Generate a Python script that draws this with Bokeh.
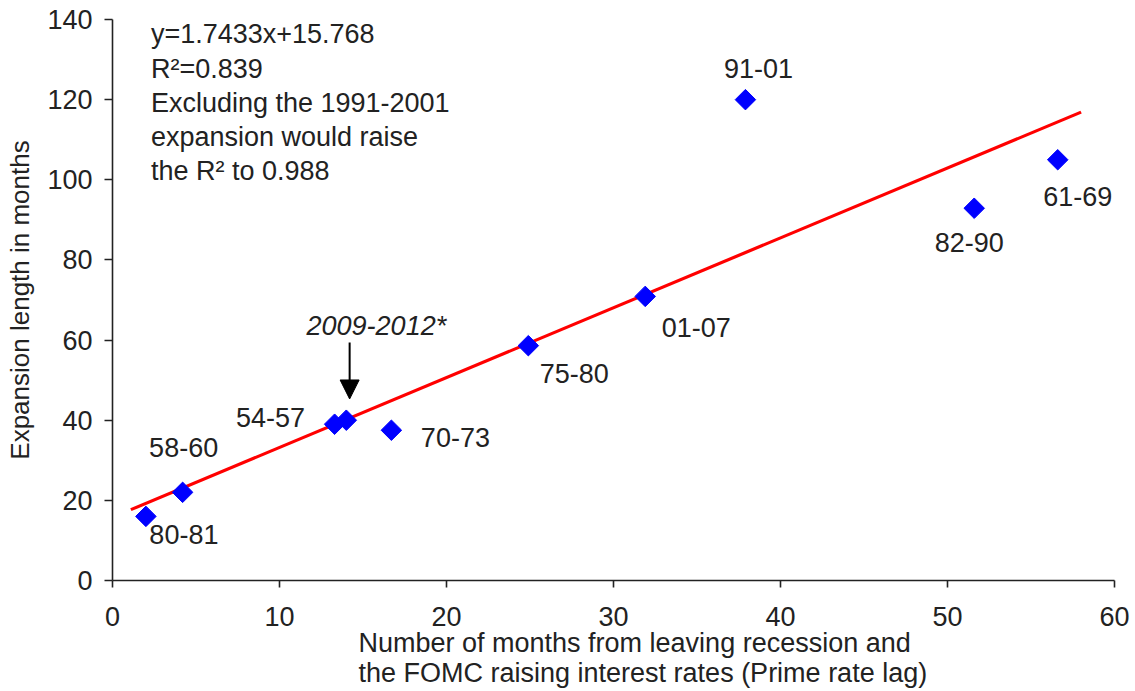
from bokeh.plotting import figure
from bokeh.models import Label, Arrow, NormalHead, Range1d, FixedTicker, ColumnDataSource, Title
from bokeh.core.properties import value
from bokeh.embed import file_html
from bokeh.resources import INLINE

# ---- data ----
periods = ["80-81", "58-60", "54-57", "2009-2012*", "70-73", "75-80", "01-07", "91-01", "82-90", "61-69"]
prime_lag = [2.0, 4.2, 13.3, 14.0, 16.7, 24.9, 31.9, 37.9, 51.6, 56.6]
expansion = [16.0, 22.0, 39.0, 40.0, 37.5, 58.6, 70.9, 120.0, 92.9, 105.0]
slope = 1.7433
intercept = 15.768
trend_x = [1.1, 58.0]
x_ticks = [0, 10, 20, 30, 40, 50, 60]
y_ticks = [0, 20, 40, 60, 80, 100, 120, 140]
note_lines = ["y=1.7433x+15.768", "R\u00b2=0.839", "Excluding the 1991-2001",
              "expansion would raise", "the R\u00b2 to 0.988"]
x_label_lines = ["Number of months from leaving recession and",
                 "the FOMC raising interest rates (Prime rate lag)"]
y_label = "Expansion length in months"

FONT = "Liberation Sans"
FS = "27px"
TXT = "#222222"

# label placement offsets in screen pixels (style)
label_dx = [38, 1, -64, 0, 64, 46, 51, 13, -5, 20]
label_dy = [18, -45, -7, 0, 7, 28, 31, -31, 34, 37]

p = figure(width=1135, height=691, x_range=Range1d(0, 60), y_range=Range1d(0, 140),
           output_backend="svg", toolbar_location=None,
           min_border_left=112, min_border_right=21, min_border_top=19, min_border_bottom=111)
p.outline_line_color = None
p.xgrid.visible = False
p.ygrid.visible = False
p.background_fill_color = "white"
p.border_fill_color = "white"

for ax in (p.xaxis[0], p.yaxis[0]):
    ax.minor_tick_line_color = None
    ax.major_tick_in = 0
    ax.axis_line_color = "#222222"
    ax.axis_line_width = 1.6
    ax.major_tick_line_color = "#222222"
    ax.major_tick_line_width = 1.6
    ax.major_label_text_font = FONT
    ax.major_label_text_font_size = FS
    ax.major_label_text_color = TXT

p.xaxis.ticker = FixedTicker(ticks=x_ticks)
p.yaxis.ticker = FixedTicker(ticks=y_ticks)
p.xaxis.major_tick_out = 7
p.yaxis.major_tick_out = 8
p.xaxis.major_label_standoff = 19
p.yaxis.major_label_standoff = 12

p.yaxis.axis_label = y_label
p.yaxis.axis_label_text_font = FONT
p.yaxis.axis_label_text_font_size = "26px"
p.yaxis.axis_label_text_font_style = "normal"
p.yaxis.axis_label_text_color = TXT
p.yaxis.axis_label_standoff = 9

# x-axis label: two left-aligned lines stacked below the axis
for i, line in enumerate(x_label_lines):
    p.add_layout(Title(text=line, align="left", offset=246, standoff=(-5 if i == 0 else 1),
                       text_font=FONT, text_font_size=FS, text_font_style="normal",
                       text_color=TXT), "below")

# trend line from regression equation
trend_y = [slope * x + intercept for x in trend_x]
p.line(trend_x, trend_y, line_color="#ff0000", line_width=3.2)

# points (diamonds as rotated squares)
src = ColumnDataSource(dict(x=prime_lag, y=expansion,
                            lab=[("" if s.startswith("2009") else s) for s in periods],
                            dx=label_dx, dy=label_dy))
p.scatter("x", "y", source=src, marker="square", angle=0.785398, size=14.5,
          fill_color="#0000ff", line_color="#0000ff")

p.text("x", "y", text="lab", source=src, x_offset="dx", y_offset="dy",
       text_font=value(FONT), text_font_size=FS, text_color=TXT,
       text_align="center", text_baseline="middle")

# 2009-2012 arrow and italic label
i09 = periods.index("2009-2012*")
ax09, ay09 = prime_lag[i09], expansion[i09]
p.add_layout(Arrow(end=NormalHead(size=19, fill_color="black", line_color="black"),
                   x_start=ax09 + 0.2, y_start=ay09 + 19.4, x_end=ax09 + 0.2, y_end=ay09 + 5.3,
                   line_color="black", line_width=2))
p.add_layout(Label(x=ax09 + 1.8, y=ay09 + 23.6, text=periods[i09], text_font=FONT,
                   text_font_size=FS, text_font_style="italic", text_color=TXT,
                   text_align="center", text_baseline="alphabetic"))

# regression note
for i, line in enumerate(note_lines):
    p.add_layout(Label(x=2.3, y=136.3 - i * 8.55, text=line, text_font=FONT,
                       text_font_size=FS, text_color=TXT,
                       text_align="left", text_baseline="alphabetic"))

open("out.html", "w").write(file_html(p, INLINE))
